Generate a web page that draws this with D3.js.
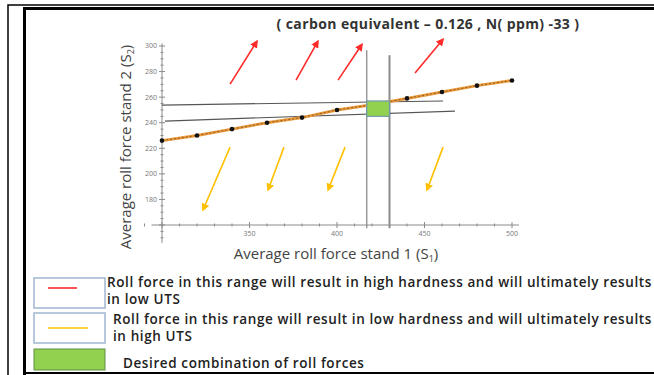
<!DOCTYPE html>
<html>
<head>
<meta charset="utf-8">
<script src="https://cdn.jsdelivr.net/npm/d3@7"></script>
<style>
  html, body { margin: 0; padding: 0; background: #fff; }
  svg { display: block; font-family: 'Open Sans', 'Liberation Sans', Arial, sans-serif; }
</style>
</head>
<body>
<div id="chart"></div>
<script>
// trend line: average roll force stand 1 vs stand 2
const rollS1 = [300, 320, 340, 360, 380, 400, 420, 440, 460, 480, 500];
const rollS2 = [226, 230, 235, 240, 244, 250, 254, 259, 264, 269, 273];

const xTicks = [350, 400, 450, 500];
const yTicks = [180, 200, 220, 240, 260, 280, 300];

// desired window [x0, x1, y0, y1]
const desired = [417, 430, 245, 257];
// guide lines [x0, y0, x1, y1]
const vGuides = [[417, 157.5, 417, 296.7], [430, 157.5, 430, 292.8]];
const hGuides = [[300, 253.8, 460.6, 257], [301.7, 241.3, 467.4, 249.1]];

// arrows [fromX, fromY, toX, toY]
const highArrows = [[338.9, 270.2, 354.3, 303.8], [376.6, 273.3, 389.1, 303.8], [400.6, 273.3, 414.3, 301.4], [444.6, 278.8, 460.6, 305.3]];
const lowArrows = [[338.9, 220.9, 323.4, 171.7], [369.7, 220.9, 360.6, 187.3], [404.6, 220.9, 394.9, 187.3], [460.6, 220.9, 451.4, 187.3]];

const legendItems = [
  { kind: 'red', lines: ['Roll force in this range will result in high hardness and will ultimately results', 'in low UTS'] },
  { kind: 'yellow', lines: ['Roll force in this range will result in low hardness and will ultimately results', 'in high UTS'] },
  { kind: 'green', lines: ['Desired combination of roll forces'] }
];

const width = 654;
const height = 375;

const redColor = '#ff2a2a';
const yellowColor = '#ffc000';
const greenColor = '#92d050';
const axisColor = '#8a8a8a';

const svg = d3.select('#chart')
  .append('svg')
  .attr('width', width)
  .attr('height', height);

// frame
svg.append('path')
  .attr('d', `M8,${height} V5 H${width}`)
  .attr('fill', 'none')
  .attr('stroke', '#000')
  .attr('stroke-width', 1.5);
svg.append('path')
  .attr('d', `M24.5,${height} V8.5 H${width}`)
  .attr('fill', 'none')
  .attr('stroke', '#000')
  .attr('stroke-width', 3);
svg.append('line')
  .attr('x1', 23).attr('x2', width)
  .attr('y1', 373).attr('y2', 373)
  .attr('stroke', '#000')
  .attr('stroke-width', 2);

const x = d3.scaleLinear().domain([300, 500]).range([162, 512]);
const y = d3.scaleLinear().domain([160, 300]).range([225, 46]);

const defs = svg.append('defs');
[['headRed', redColor], ['headYellow', yellowColor]].forEach(([id, c]) => {
  defs.append('marker')
    .attr('id', id)
    .attr('viewBox', '0 0 10 10')
    .attr('refX', 8).attr('refY', 5)
    .attr('markerWidth', 5).attr('markerHeight', 5)
    .attr('orient', 'auto')
    .append('path')
    .attr('d', 'M0,0 L10,5 L0,10 Z')
    .attr('fill', c);
});

// axes
const xAxis = svg.append('g').attr('transform', `translate(0,${y(160)})`);
xAxis.append('line')
  .attr('x1', x(294)).attr('x2', x(504))
  .attr('stroke', axisColor).attr('stroke-width', 1);
xAxis.selectAll('.minor')
  .data(d3.range(290, 505, 10))
  .join('line')
  .attr('x1', d => x(d)).attr('x2', d => x(d))
  .attr('y1', d => d % 50 === 0 ? -3 : -1.5)
  .attr('y2', d => d % 50 === 0 ? 3 : 1.5)
  .attr('stroke', axisColor);
xAxis.selectAll('text')
  .data(xTicks)
  .join('text')
  .attr('x', d => x(d))
  .attr('y', 11)
  .attr('text-anchor', 'middle')
  .attr('font-size', 7)
  .attr('fill', '#777')
  .text(d => d);

const yAxis = svg.append('g').attr('transform', `translate(${x(300)},0)`);
yAxis.append('line')
  .attr('y1', y(146)).attr('y2', y(302))
  .attr('stroke', axisColor).attr('stroke-width', 1);
yAxis.selectAll('.minor')
  .data(d3.range(150, 301, 5))
  .join('line')
  .attr('y1', d => y(d)).attr('y2', d => y(d))
  .attr('x1', d => d % 20 === 0 ? -3 : -1.5)
  .attr('x2', d => d % 20 === 0 ? 3 : 1.5)
  .attr('stroke', axisColor);
yAxis.selectAll('text')
  .data(yTicks)
  .join('text')
  .attr('x', -5)
  .attr('y', d => y(d))
  .attr('dy', '0.35em')
  .attr('text-anchor', 'end')
  .attr('font-size', 7)
  .attr('fill', '#777')
  .text(d => d);

// axis titles
const xTitle = svg.append('text')
  .attr('x', 336)
  .attr('y', 259)
  .attr('text-anchor', 'middle')
  .attr('font-size', 15)
  .attr('fill', '#444');
xTitle.append('tspan').text('Average roll force stand 1 (S');
xTitle.append('tspan').attr('font-size', 9).attr('dy', 3).text('1');
xTitle.append('tspan').attr('dy', -3).text(')');

const yTitle = svg.append('text')
  .attr('transform', 'translate(131,147) rotate(-90)')
  .attr('text-anchor', 'middle')
  .attr('font-size', 15)
  .attr('fill', '#444');
yTitle.append('tspan').text('Average roll force stand 2 (S');
yTitle.append('tspan').attr('font-size', 9).attr('dy', 3).text('2');
yTitle.append('tspan').attr('dy', -3).text(')');

// guide lines
svg.append('g')
  .selectAll('line')
  .data(vGuides)
  .join('line')
  .attr('x1', d => x(d[0])).attr('y1', d => y(d[1]))
  .attr('x2', d => x(d[2])).attr('y2', d => y(d[3]))
  .attr('stroke', '#8c8c8c')
  .attr('stroke-width', (d, i) => i === 0 ? 1.3 : 2);
svg.append('g')
  .selectAll('line')
  .data(hGuides)
  .join('line')
  .attr('x1', d => x(d[0])).attr('y1', d => y(d[1]))
  .attr('x2', d => x(d[2])).attr('y2', d => y(d[3]))
  .attr('stroke', '#555')
  .attr('stroke-width', 1.2);

// trend line
const pts = rollS1.map((v, i) => [v, rollS2[i]]);
const line = d3.line().x(d => x(d[0])).y(d => y(d[1]));
svg.append('path')
  .datum(pts)
  .attr('d', line)
  .attr('fill', 'none')
  .attr('stroke', '#e99a3c')
  .attr('stroke-width', 3);
svg.append('path')
  .datum(pts)
  .attr('d', line)
  .attr('fill', 'none')
  .attr('stroke', '#7a4a1a')
  .attr('stroke-width', 0.8)
  .attr('stroke-dasharray', '2,2');
svg.append('g')
  .selectAll('circle')
  .data(pts)
  .join('circle')
  .attr('cx', d => x(d[0]))
  .attr('cy', d => y(d[1]))
  .attr('r', 2.3)
  .attr('fill', '#111');

// desired window
svg.append('rect')
  .attr('x', x(desired[0]))
  .attr('y', y(desired[3]))
  .attr('width', x(desired[1]) - x(desired[0]))
  .attr('height', y(desired[2]) - y(desired[3]))
  .attr('fill', greenColor)
  .attr('stroke', '#6f9aa8')
  .attr('stroke-width', 1.2);

// arrows
svg.append('g')
  .selectAll('line')
  .data(highArrows)
  .join('line')
  .attr('x1', d => x(d[0])).attr('y1', d => y(d[1]))
  .attr('x2', d => x(d[2])).attr('y2', d => y(d[3]))
  .attr('stroke', redColor)
  .attr('stroke-width', 1.6)
  .attr('marker-end', 'url(#headRed)');
svg.append('g')
  .selectAll('line')
  .data(lowArrows)
  .join('line')
  .attr('x1', d => x(d[0])).attr('y1', d => y(d[1]))
  .attr('x2', d => x(d[2])).attr('y2', d => y(d[3]))
  .attr('stroke', yellowColor)
  .attr('stroke-width', 1.6)
  .attr('marker-end', 'url(#headYellow)');

// title
svg.append('text')
  .attr('x', 428)
  .attr('y', 29)
  .attr('text-anchor', 'middle')
  .attr('font-size', 14)
  .attr('font-weight', 'bold')
  .attr('letter-spacing', 0.4)
  .attr('fill', '#333')
  .text('( carbon equivalent \u2013 0.126 , N( ppm) -33 )');

// legend
const legendTop = [278, 313, 349];
const legendTextX = [107, 113, 123];
const legendTextY = [287, 324, 368];
const legend = svg.append('g');
legendItems.forEach((item, i) => {
  const g = legend.append('g').attr('transform', `translate(34,${legendTop[i]})`);
  if (item.kind === 'green') {
    g.append('rect')
      .attr('width', 71).attr('height', 21)
      .attr('fill', greenColor)
      .attr('stroke', '#5f8f45')
      .attr('stroke-width', 1);
  } else {
    g.append('rect')
      .attr('width', 71).attr('height', 30)
      .attr('fill', '#fff')
      .attr('stroke', '#9fb6d0')
      .attr('stroke-width', 1.5);
    g.append('line')
      .attr('x1', 14).attr('x2', item.kind === 'red' ? 43 : 54)
      .attr('y1', item.kind === 'red' ? 10 : 15)
      .attr('y2', item.kind === 'red' ? 10 : 15)
      .attr('stroke', item.kind === 'red' ? redColor : yellowColor)
      .attr('stroke-width', 1.6);
  }
  item.lines.forEach((t, j) => {
    legend.append('text')
      .attr('x', legendTextX[i])
      .attr('y', legendTextY[i] + j * 17)
      .attr('font-size', 13.5)
      .attr('font-weight', 600)
      .attr('letter-spacing', 0.6)
      .attr('fill', '#222')
      .text(t);
  });
});
</script>
</body>
</html>
